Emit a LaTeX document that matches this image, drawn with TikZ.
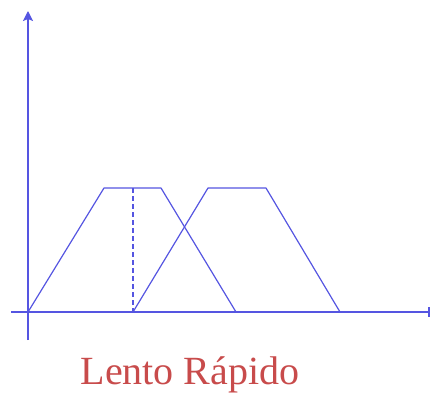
\documentclass[tikz,border=0pt]{standalone}
\usepackage{fontspec}
\setmainfont{Liberation Serif}
\usepackage{xcolor}
\usetikzlibrary{arrows.meta}

\definecolor{plotblue}{RGB}{85,85,225}
\definecolor{labelred}{RGB}{200,75,75}

\begin{document}
\begin{tikzpicture}[
    x=1pt, y=-1pt,
    axis/.style={draw=plotblue, line width=1.4pt},
    member/.style={draw=plotblue, line width=1.2pt, line join=round},
    label/.style={text=labelred, font=\fontsize{40}{44}\selectfont, anchor=base}
]
    \useasboundingbox (0,0) rectangle (430,394);

    % =========================================================
    % AXES
    % =========================================================
    \coordinate (origin) at (28,312);
    \coordinate (ytop) at (28,11);
    \coordinate (ybot) at (28,340);
    \coordinate (xleft) at (11,312);
    \coordinate (xright) at (430,312);

    \draw [axis, -{Stealth[length=10pt, width=10pt, inset=2pt]}] (ybot) -- (ytop);
    \draw [axis] (xleft) -- (xright);
    \draw [axis] (429,307) -- (429,317);

    % =========================================================
    % MEMBERSHIP FUNCTIONS
    % =========================================================
    \coordinate (lentoA) at (origin);
    \coordinate (lentoB) at (104,188);
    \coordinate (lentoC) at (161,188);
    \coordinate (lentoD) at (236,312);

    \coordinate (rapidoA) at (133,312);
    \coordinate (rapidoB) at (208,188);
    \coordinate (rapidoC) at (266,188);
    \coordinate (rapidoD) at (340,312);

    \draw [member] (lentoA) -- (lentoB) -- (lentoC) -- (lentoD);
    \draw [member] (rapidoA) -- (rapidoB) -- (rapidoC) -- (rapidoD);
    \draw [member, dashed, dash pattern=on 5pt off 3pt] (133,188) -- (rapidoA);

    % label
    \node [label] (names) at (190,384) {Lento Rápido};

\end{tikzpicture}
\end{document}
